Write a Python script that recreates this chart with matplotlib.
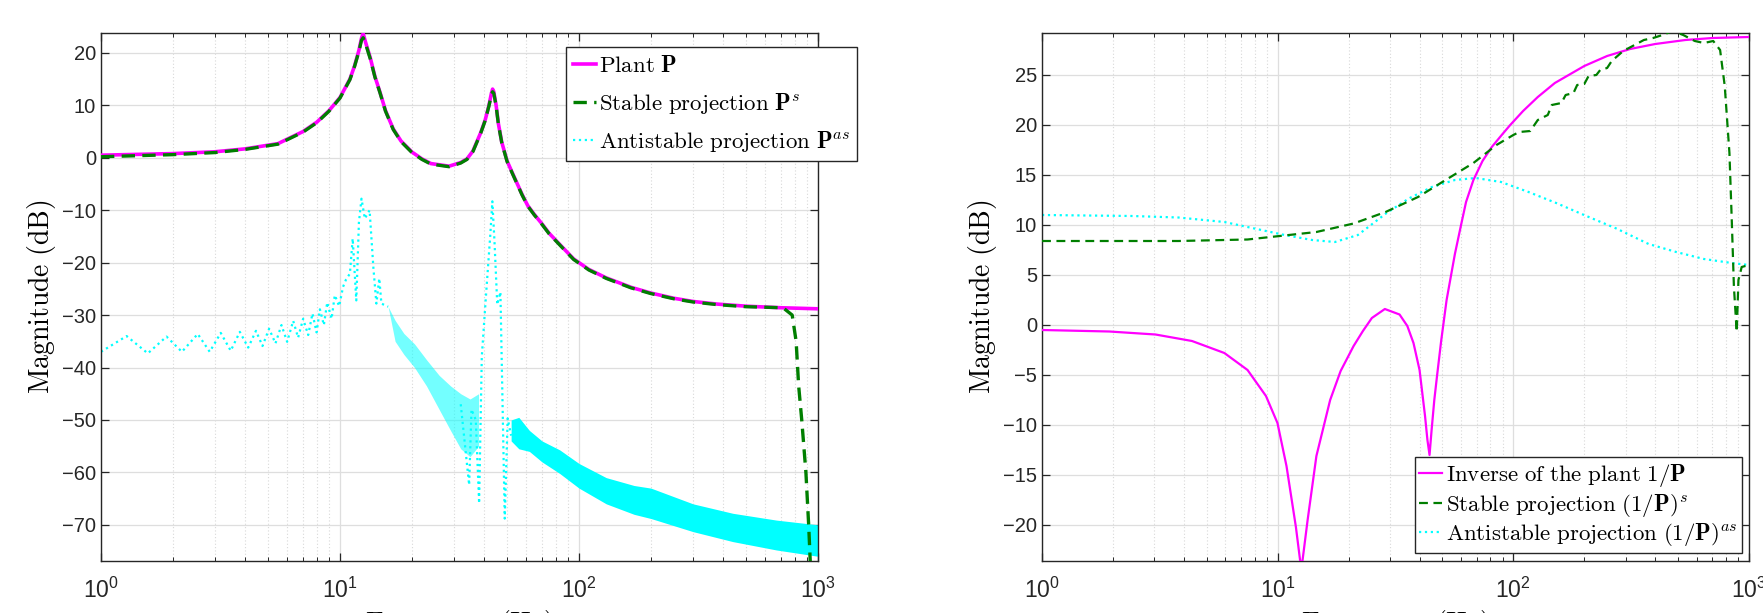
import numpy as np
import matplotlib
matplotlib.use("Agg")
import matplotlib.pyplot as plt
from matplotlib.ticker import LogLocator, FixedLocator

plt.rcParams['font.family'] = ['Liberation Sans', 'DejaVu Sans']
plt.rcParams['mathtext.fontset'] = 'custom'
plt.rcParams['mathtext.rm'] = 'Liberation Sans'
plt.rcParams['mathtext.it'] = 'Liberation Sans:italic'
plt.rcParams['mathtext.bf'] = 'Liberation Sans:bold'

# ---- left panel: plant P and its projections ----
p_f = [1, 2, 3, 4, 5.5, 7, 8, 9, 10, 11, 11.5, 12, 12.3, 12.5, 12.8, 13.4, 14, 14.7, 15.5, 16.7,
       18, 20, 22, 24, 28.6, 32, 34, 36, 38.8, 40.5, 42, 43, 43.5, 44, 45, 46, 47.5, 50, 53, 57.8,
       61, 65, 70, 75, 85, 95, 110, 130, 165, 200, 250, 300, 378, 500, 700, 1000]
p_db = [0.5, 0.8, 1.15, 1.7, 2.7, 5.0, 6.8, 9.0, 11.5, 15.0, 17.5, 20.5, 22.8, 23.7, 22.0, 19.0,
        15.5, 12.5, 9.0, 5.5, 3.2, 1.1, -0.2, -1.1, -1.6, -0.9, -0.2, 1.3, 4.8, 7.2, 10.0, 12.3,
        13.1, 12.6, 10.0, 6.5, 3.0, -0.6, -3.2, -7.0, -9.1, -10.8, -12.6, -14.4, -17.0, -19.3,
        -21.3, -22.9, -24.7, -25.8, -26.8, -27.4, -27.9, -28.3, -28.6, -28.8]

ps_f = [1, 2, 3, 4, 5.5, 7, 8, 9, 10, 11, 11.5, 12, 12.3, 12.5, 12.8, 13.4, 14, 14.7, 15.5, 16.7,
        18, 20, 22, 24, 28.6, 32, 34, 36, 38.8, 40.5, 42, 43, 43.5, 44, 45, 46, 47.5, 50, 53, 57.8,
        61, 65, 70, 75, 85, 95, 110, 130, 165, 200, 250, 300, 378, 500, 600, 714, 780, 810, 830,
        855, 890, 914, 930]
ps_db = [0.2, 0.6, 1.0, 1.6, 2.6, 4.9, 6.7, 8.9, 11.4, 14.9, 17.4, 20.3, 22.4, 22.9, 21.7, 18.8,
         15.4, 12.4, 8.9, 5.4, 3.1, 1.0, -0.3, -1.2, -1.7, -1.0, -0.3, 1.2, 4.7, 7.1, 9.9, 12.0,
         12.6, 12.3, 9.9, 6.4, 2.9, -0.7, -3.3, -7.1, -9.2, -10.9, -12.7, -14.5, -17.1, -19.4,
         -21.4, -23.0, -24.8, -25.9, -26.9, -27.5, -28.0, -28.4, -28.5, -28.6, -30.0, -35.0,
         -43.5, -50.0, -60.0, -70.0, -78.0]

# antistable projection: explicit zigzag up to 16 Hz
pas_f = [1.0, 1.28, 1.57, 1.88, 2.18, 2.54, 2.85, 3.17, 3.49, 3.81, 4.13, 4.45, 4.74, 5.05, 5.37,
         5.69, 6.01, 6.37, 6.68, 7.01, 7.36, 7.67, 7.98, 8.24, 8.56, 8.84, 9.22, 9.51, 9.92, 10.3,
         10.6, 11.0, 11.3, 11.7, 12.0, 12.3, 12.7, 13.3, 13.8, 14.2, 14.6, 14.9, 15.9]
pas_db = [-37.0, -34.0, -37.3, -34.1, -37.0, -33.6, -37.0, -33.4, -36.8, -33.2, -36.2, -33.0, -35.9,
          -32.6, -35.4, -31.9, -35.1, -31.1, -34.3, -30.7, -33.8, -29.7, -33.3, -28.9, -31.9, -27.6,
          -30.7, -26.2, -28.3, -24.6, -23.2, -22.1, -15.4, -27.2, -12.3, -7.8, -11.6, -10.0, -21.1,
          -27.8, -23.0, -27.8, -28.4]
# dense ripple band 16-38 Hz (upper / lower envelope)
band1_f = [15.9, 17, 18.5, 20.5, 23, 26, 29, 32, 35, 38]
band1_hi = [-28.4, -31.0, -33.5, -35.5, -38.5, -41.5, -43.5, -45.0, -46.0, -45.0]
band1_lo = [-28.4, -35.0, -37.5, -40.0, -43.5, -48.0, -52.0, -55.5, -57.0, -55.0]
# spikes around the second mode
spk_f = [32, 34.7, 35.5, 37, 38.2, 39.2, 41, 42.5, 43.4, 44.3, 45.5, 46.9, 48.9, 50.3, 52]
spk_db = [-47, -62.4, -48, -50, -65.9, -37.9, -25, -15, -8.3, -16, -28, -25.6, -68.8, -49.7, -53]
# solid ripple band above 52 Hz
band2_f = [52, 56, 62, 70, 83, 100, 130, 170, 200, 300, 440, 670, 1000]
band2_hi = [-50.0, -49.5, -52.0, -54.0, -55.7, -58.3, -61.0, -62.5, -63.0, -66.0, -67.8, -69.1, -70.0]
band2_lo = [-54.0, -55.5, -56.0, -58.0, -60.2, -63.0, -66.0, -68.0, -68.8, -71.3, -73.2, -74.8, -76.0]

# ---- right panel: inverse plant 1/P and projections ----
ip_f = [1.0, 1.93, 3.03, 4.33, 5.94, 7.45, 8.92, 9.98, 10.9, 11.95, 12.6, 13.4, 14.6, 16.7, 18.5,
        21, 23, 25.1, 28.5, 32.9, 35.5, 37.7, 40, 42.2, 43.2, 44.1, 45, 46.2, 47.5, 49.4, 52.1,
        56.5, 60, 63, 67.7, 74, 81, 90, 97, 110, 127, 150, 200, 250, 313, 400, 537, 700, 1000]
ip_db = [-0.5, -0.65, -0.95, -1.6, -2.8, -4.5, -7.1, -9.8, -14.1, -20.2, -24.5, -19.5, -13.1, -7.5,
         -4.6, -2.1, -0.6, 0.7, 1.6, 1.05, -0.1, -1.8, -4.5, -9.1, -11.5, -13.0, -10.5, -7.5, -5.0,
         -1.6, 2.5, 7.1, 10.0, 12.3, 14.5, 16.4, 17.8, 19.1, 20.0, 21.4, 22.8, 24.2, 25.9, 26.9,
         27.6, 28.1, 28.5, 28.7, 28.8]

ips_f = [1.0, 3.79, 7.45, 10.2, 14.6, 21, 28.7, 39.4, 51.6, 67.7, 84.8, 100, 106, 118, 127, 140,
         145.6, 160, 166.7, 180, 186.6, 200, 208.6, 225, 233.7, 250, 261.5, 292.6, 327, 358, 392,
         429.5, 474, 526, 589, 644, 705, 754, 789, 826, 845, 863, 887, 902, 931, 1000]
ips_db = [8.4, 8.4, 8.55, 8.9, 9.3, 10.15, 11.3, 12.8, 14.5, 16.2, 18.0, 19.0, 19.3, 19.4, 20.5,
          21.0, 22.0, 22.2, 23.0, 23.2, 24.0, 24.1, 24.9, 25.0, 25.5, 25.7, 26.4, 27.4, 28.0, 28.5,
          28.7, 29.0, 29.4, 29.0, 28.4, 28.2, 28.4, 27.5, 23.9, 17.2, 10.5, 3.8, -0.7, 4.5, 5.8, 6.0]

ipas_f = [1.0, 2.41, 3.79, 5.94, 8.15, 10.7, 14.0, 17.5, 21.9, 28.8, 36, 45.1, 56.5, 69.2, 88.7,
          116, 152, 199.5, 273.5, 375, 491, 644, 844, 1000]
ipas_db = [11.0, 10.9, 10.75, 10.3, 9.6, 9.0, 8.5, 8.3, 9.0, 11.15, 12.65, 13.8, 14.5, 14.7, 14.3,
           13.3, 12.2, 11.0, 9.65, 8.1, 7.3, 6.6, 6.2, 6.0]

left_yticks = [-70, -60, -50, -40, -30, -20, -10, 0, 10, 20]
right_yticks = [-20, -15, -10, -5, 0, 5, 10, 15, 20, 25]

W, H = 1763, 613
fig = plt.figure(figsize=(W / 100, H / 100), dpi=100)
ax1 = fig.add_axes([101 / W, 1 - 561 / H, (818 - 101) / W, (561 - 33) / H])
ax2 = fig.add_axes([1042 / W, 1 - 561 / H, (1749 - 1042) / W, (561 - 33) / H])

magenta, green, cyan = '#ff00ff', '#007f00', '#00ffff'

# left
l1, = ax1.semilogx(p_f, p_db, color=magenta, lw=2.6, zorder=3)
l2, = ax1.semilogx(ps_f, ps_db, color=green, lw=2.4, ls=(0, (4, 2.2)), zorder=4)
ax1.fill_between(band1_f, band1_lo, band1_hi, color=cyan, alpha=0.55, lw=0, zorder=2)
ax1.fill_between(band2_f, band2_lo, band2_hi, color=cyan, lw=0, zorder=2)
ax1.semilogx(spk_f, spk_db, color=cyan, lw=1.6, ls=':', zorder=2)
l3, = ax1.semilogx(pas_f, pas_db, color=cyan, lw=1.6, ls=':', zorder=2)
ax1.set_ylim(-76.9, 23.8)
ax1.set_yticks(left_yticks)

# right
r1, = ax2.semilogx(ip_f, ip_db, color=magenta, lw=1.6, zorder=3)
r2, = ax2.semilogx(ips_f, ips_db, color=green, lw=1.6, ls=(0, (4, 2.5)), zorder=4)
r3, = ax2.semilogx(ipas_f, ipas_db, color=cyan, lw=1.6, ls=':', zorder=2)
ax2.set_ylim(-23.6, 29.2)
ax2.set_yticks(right_yticks)

for ax in (ax1, ax2):
    ax.set_xlim(1, 1000)
    ax.xaxis.set_major_locator(FixedLocator([1, 10, 100, 1000]))
    ax.xaxis.set_minor_locator(LogLocator(base=10, subs=np.arange(2, 10), numticks=20))
    ax.xaxis.set_minor_formatter(plt.NullFormatter())
    ax.set_xticklabels([r'$10^0$', r'$10^1$', r'$10^2$', r'$10^3$'])
    ax.grid(True, which='major', color='#dedede', lw=0.9)
    ax.grid(True, which='minor', axis='x', color='#d8d8d8', lw=0.8, ls=(0, (1, 2)))
    ax.set_axisbelow(True)
    ax.tick_params(which='both', direction='in', top=True, right=True, colors='#262626',
                   labelsize=14.5, labelcolor='#262626')
    ax.tick_params(which='major', length=6, width=0.9)
    ax.tick_params(which='minor', length=3, width=0.7)
    ax.tick_params(axis='x', pad=12, labelsize=16.5)
    for s in ax.spines.values():
        s.set_color('#262626')
        s.set_linewidth(1.0)
    ax.set_ylabel(r'$\mathrm{Magnitude\ (dB)}$', fontsize=20, math_fontfamily='cm', labelpad=3)
    ax.set_xlabel(r'$\mathrm{Frequency\ (Hz)}$', fontsize=20, math_fontfamily='cm', labelpad=4)

leg1 = ax1.legend([l1, l2, l3],
                  [r'$\mathrm{Plant}\ \mathbf{P}$',
                   r'$\mathrm{Stable\ projection}\ \mathbf{P}^{s}$',
                   r'$\mathrm{Antistable\ projection}\ \mathbf{P}^{as}$'],
                  loc='upper left', bbox_to_anchor=(566 / W, 1 - 47 / H),
                  bbox_transform=fig.transFigure, borderaxespad=0, fancybox=False,
                  framealpha=1, edgecolor='#262626', fontsize=16.5, handlelength=1.0,
                  handletextpad=0.15, labelspacing=0.6, borderpad=0.3)
leg2 = ax2.legend([r1, r2, r3],
                  [r'$\mathrm{Inverse\ of\ the\ plant}\ 1/\mathbf{P}$',
                   r'$\mathrm{Stable\ projection}\ (1/\mathbf{P})^{s}$',
                   r'$\mathrm{Antistable\ projection}\ (1/\mathbf{P})^{as}$'],
                  loc='lower right', bbox_to_anchor=(1742 / W, 1 - 553 / H),
                  bbox_transform=fig.transFigure, borderaxespad=0, fancybox=False,
                  framealpha=1, edgecolor='#262626', fontsize=16.5, handlelength=1.0,
                  handletextpad=0.15, labelspacing=0.12, borderpad=0.2)
for leg in (leg1, leg2):
    leg.get_frame().set_linewidth(1.0)
    for t in leg.get_texts():
        t.set_math_fontfamily('cm')

fig.savefig('out.png', dpi=100)
